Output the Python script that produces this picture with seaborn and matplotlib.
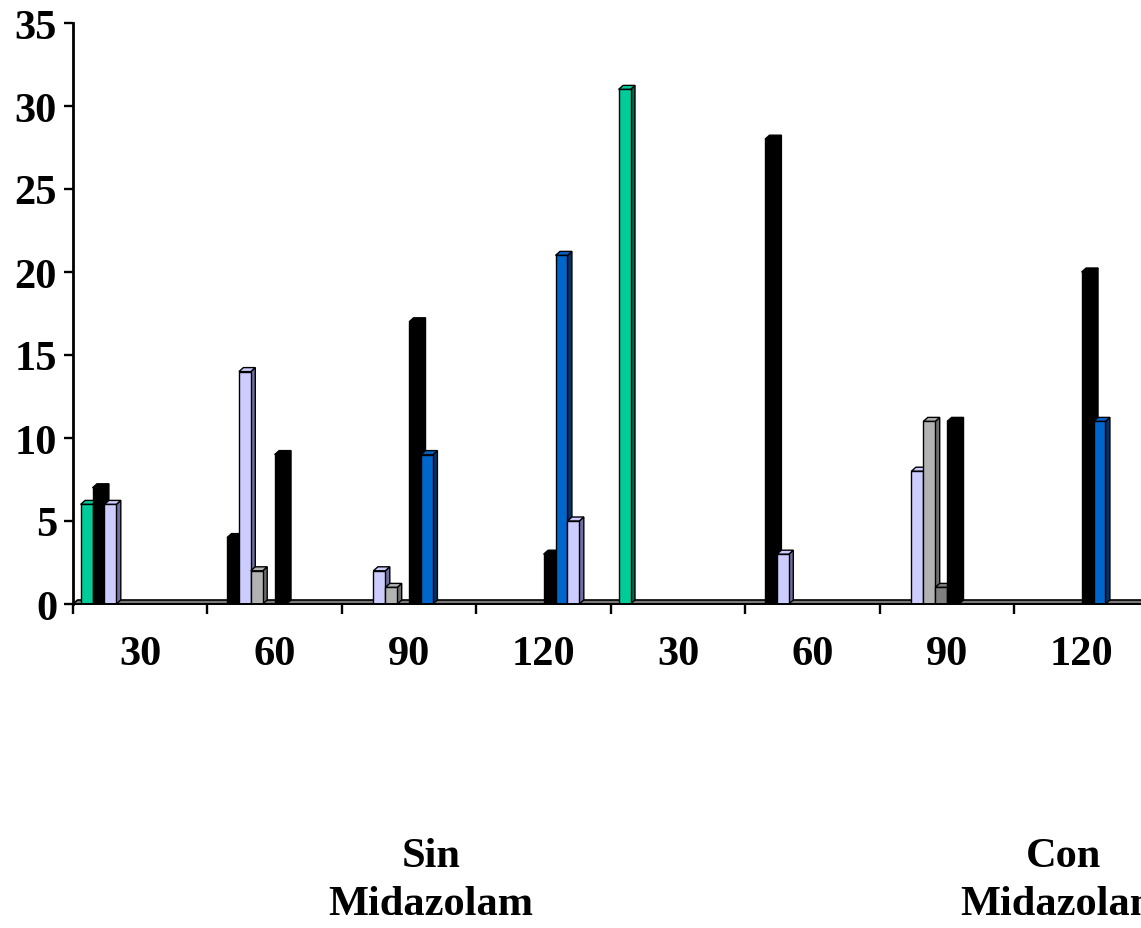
import numpy as np
import pandas as pd
import matplotlib
matplotlib.use("Agg")
import matplotlib.pyplot as plt
import seaborn as sns
from matplotlib.patches import Polygon
from matplotlib.ticker import FixedLocator, NullFormatter

# ---------------- data ----------------
categories = ["30", "60", "90", "120", "30", "60", "90", "120"]
groups = ["Sin\nMidazolam", "Con\nMidazolam"]
series_names = ["S1", "S2", "S3", "S4", "S5", "S6", "S7", "S8"]
s1 = [6, 0, 0, 0, 31, 0, 0, 0]
s2 = [7, 4, 0, 0, 0, 28, 0, 0]
s3 = [6, 14, 2, 0, 0, 3, 8, 0]
s4 = [0, 2, 1, 0, 0, 0, 11, 0]
s5 = [0, 0, 0, 0, 0, 0, 1, 0]
s6 = [0, 9, 17, 3, 0, 0, 11, 20]
s7 = [0, 0, 9, 21, 0, 0, 0, 11]
s8 = [0, 0, 0, 5, 0, 0, 0, 0]
series_values = [s1, s2, s3, s4, s5, s6, s7, s8]
y_ticks = [0, 5, 10, 15, 20, 25, 30, 35]

front_colors = ["#00CC99", "#000000", "#CCCCFF", "#B2B2B2",
                "#808080", "#000000", "#0066CC", "#CCCCFF"]
side_colors = ["#00694F", "#000000", "#7070A0", "#6E6E6E",
               "#404040", "#000000", "#003366", "#7070A0"]

rows = []
for name, vals in zip(series_names, series_values):
    for i, v in enumerate(vals):
        if v > 0:
            rows.append({"pos": i, "series": name, "value": v})
df = pd.DataFrame(rows)

# ---------------- figure ----------------
sns.set_style("white")
plt.rcParams["font.family"] = ["Liberation Serif", "DejaVu Serif"]
plt.rcParams["font.weight"] = "bold"
plt.rcParams["text.color"] = "black"
FS = 30.5

W_PX, H_PX = 1141, 929
fig = plt.figure(figsize=(W_PX / 100, H_PX / 100), dpi=100)
ax_left, ax_bottom_px, ax_top_px, cell_px = 73, 605, 24, 134.5
ax = fig.add_axes([ax_left / W_PX, (H_PX - ax_bottom_px) / H_PX,
                   8 * cell_px / W_PX, (ax_bottom_px - ax_top_px) / H_PX])

sns.barplot(data=df, x="pos", y="value", hue="series",
            order=list(range(len(categories))), hue_order=series_names,
            palette=dict(zip(series_names, front_colors)), saturation=1,
            width=0.708, gap=0, dodge=True, errorbar=None,
            edgecolor="black", linewidth=1.0, legend=False, ax=ax)

shift = 0.0895
ax.set_xlim(-0.5 + shift, len(categories) - 0.5 + shift)
ax.set_ylim(0, 35)

# 3D depth in data units
dx = 4.5 / cell_px
dy = 4.0 * 35 / (ax_bottom_px - ax_top_px)

# floor
x0, x1 = ax.get_xlim()
floor = Polygon([(x0, 0), (x1 + 1, 0), (x1 + 1 + dx, dy), (x0 + dx, dy)],
                closed=True, facecolor="#7A7A7A", edgecolor="black",
                linewidth=1.2, zorder=1.5, clip_on=False)
ax.add_patch(floor)

# 3D faces for each bar, later series drawn in front
for k, cont in enumerate(ax.containers):
    z = 2 + k * 0.1
    for bar in cont:
        h = bar.get_height()
        if not np.isfinite(h) or h <= 0:
            continue
        bx0 = bar.get_x()
        bx1 = bx0 + bar.get_width()
        bar.set_zorder(z + 0.03)
        side = Polygon([(bx1, 0), (bx1 + dx, dy), (bx1 + dx, h + dy), (bx1, h)],
                       closed=True, facecolor=side_colors[k], edgecolor="black",
                       linewidth=1.0, zorder=z + 0.01)
        top = Polygon([(bx0, h), (bx1, h), (bx1 + dx, h + dy), (bx0 + dx, h + dy)],
                      closed=True, facecolor=front_colors[k], edgecolor="black",
                      linewidth=1.0, zorder=z + 0.02)
        ax.add_patch(side)
        ax.add_patch(top)

# axes styling
for s in ["top", "right"]:
    ax.spines[s].set_visible(False)
ax.spines["left"].set_linewidth(2.0)
ax.spines["bottom"].set_linewidth(1.4)
ax.spines["left"].set_color("black")
ax.spines["bottom"].set_color("black")
ax.spines["bottom"].set_zorder(5)

ax.set_yticks(y_ticks)
ax.set_yticklabels([str(t) for t in y_ticks], fontsize=FS, fontweight="bold")
ax.tick_params(axis="y", direction="out", length=6.5, width=1.7,
               pad=5, colors="black", left=True)

ax.set_xticks([i + shift for i in range(len(categories))])
ax.set_xticklabels(categories, fontsize=FS, fontweight="bold")
ax.xaxis.set_minor_locator(FixedLocator([i - 0.5 + shift for i in range(len(categories) + 1)]))
ax.xaxis.set_minor_formatter(NullFormatter())
ax.tick_params(axis="x", which="major", length=0, pad=22, colors="black")
ax.tick_params(axis="x", which="minor", direction="out", length=7.5,
               width=1.7, color="black", bottom=True)
ax.set_xlabel("")
ax.set_ylabel("")
ax.grid(False)

# group labels
group_centers_px = [431, 1063]
for g, cx in zip(groups, group_centers_px):
    fig.text(cx / W_PX, 1 - 881 / H_PX, g, ha="center", va="center",
             multialignment="center", fontsize=FS, fontweight="bold",
             linespacing=1.32, color="black")

fig.savefig("out.png", dpi=100)
